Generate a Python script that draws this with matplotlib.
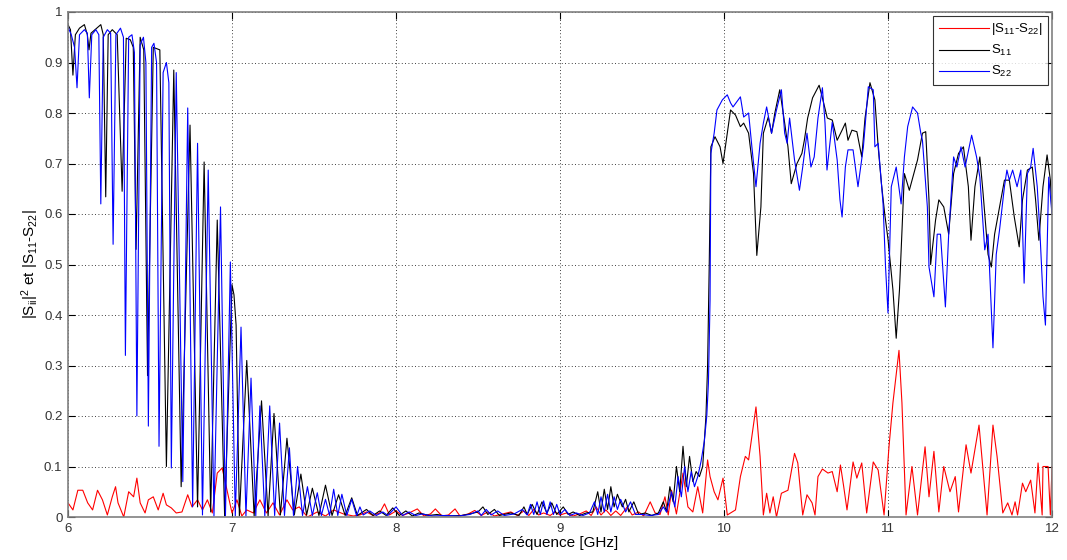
import matplotlib
matplotlib.use("Agg")
import matplotlib.pyplot as plt

plt.rcParams['font.family'] = ['Liberation Sans', 'DejaVu Sans']
plt.rcParams['mathtext.fontset'] = 'custom'
plt.rcParams['mathtext.rm'] = 'Liberation Sans'
plt.rcParams['mathtext.it'] = 'Liberation Sans:italic'
plt.rcParams['mathtext.default'] = 'regular'

# ---------------- data ----------------
x_ticks = [6, 7, 8, 9, 10, 11, 12]
x_tick_labels = ['6', '7', '8', '9', '10', '11', '12']
y_ticks = [0, 0.1, 0.2, 0.3, 0.4, 0.5, 0.6, 0.7, 0.8, 0.9, 1.0]
y_tick_labels = ['0', '0.1', '0.2', '0.3', '0.4', '0.5', '0.6', '0.7', '0.8', '0.9', '1']

labels = ['|S$_{11}$-S$_{22}$|', 'S$_{11}$', 'S$_{22}$']

# |S11 - S22|  (red)
diff_freq = [
    6.00, 6.03, 6.06, 6.09, 6.12, 6.15, 6.18, 6.21, 6.24, 6.27, 6.29, 6.305, 6.34, 6.37,
    6.40, 6.42, 6.44, 6.47, 6.49, 6.52, 6.55, 6.58, 6.60, 6.63, 6.66, 6.695, 6.73, 6.756,
    6.79, 6.82, 6.85, 6.88, 6.91, 6.94, 6.97, 7.00, 7.03, 7.06, 7.09, 7.13, 7.17, 7.21,
    7.25, 7.29, 7.335, 7.37, 7.41, 7.46, 7.52, 7.57, 7.62, 7.68, 7.74, 7.78, 7.82, 7.86,
    7.90, 7.93, 7.96, 8.00, 8.04, 8.08, 8.13, 8.17, 8.21, 8.24, 8.28, 8.32, 8.36, 8.39,
    8.44, 8.48, 8.52, 8.56, 8.60, 8.65, 8.70, 8.74, 8.78, 8.81, 8.84, 8.87, 8.90, 8.94,
    8.97, 9.00, 9.04, 9.08, 9.12, 9.16, 9.19, 9.22, 9.25, 9.28, 9.31, 9.34, 9.37, 9.41,
    9.44, 9.48, 9.51, 9.55, 9.58, 9.61, 9.64, 9.66, 9.68, 9.71, 9.75, 9.78, 9.81, 9.84,
    9.87, 9.90, 9.915, 9.94, 9.963, 9.994, 10.02, 10.07, 10.10, 10.13, 10.15, 10.195,
    10.22, 10.24, 10.26, 10.28, 10.30, 10.32, 10.35, 10.39, 10.43, 10.45, 10.48, 10.506,
    10.537, 10.555, 10.573, 10.60, 10.634, 10.66, 10.69, 10.71, 10.73, 10.75, 10.787,
    10.81, 10.84, 10.87, 10.91, 10.94, 10.976, 11.006, 11.03, 11.067, 11.085, 11.11,
    11.146, 11.18, 11.226, 11.25, 11.28, 11.31, 11.34, 11.378, 11.41, 11.43, 11.476,
    11.506, 11.555, 11.604, 11.64, 11.665, 11.70, 11.73, 11.756, 11.775, 11.79, 11.82,
    11.84, 11.87, 11.896, 11.915, 11.94, 11.945, 11.976, 11.99, 12.00]
diff_val = [
    0.028, 0.014, 0.053, 0.053, 0.028, 0.014, 0.053, 0.034, 0.004, 0.040, 0.060, 0.028, 0.000, 0.050,
    0.040, 0.077, 0.028, 0.008, 0.034, 0.040, 0.014, 0.047, 0.024, 0.018, 0.008, 0.010, 0.044, 0.020,
    0.034, 0.014, 0.034, 0.008, 0.087, 0.097, 0.053, 0.008, 0.034, 0.002, 0.014, 0.008, 0.034, 0.008,
    0.028, 0.004, 0.034, 0.014, 0.020, 0.000, 0.010, 0.002, 0.014, 0.006, 0.002, 0.004, 0.010, 0.003,
    0.008, 0.026, 0.004, 0.012, 0.003, 0.008, 0.016, 0.002, 0.006, 0.016, 0.002, 0.004, 0.016, 0.002,
    0.006, 0.013, 0.003, 0.010, 0.002, 0.006, 0.010, 0.003, 0.012, 0.003, 0.015, 0.004, 0.008, 0.003,
    0.010, 0.004, 0.008, 0.002, 0.006, 0.012, 0.003, 0.020, 0.004, 0.014, 0.003, 0.012, 0.003, 0.020,
    0.004, 0.010, 0.002, 0.030, 0.008, 0.005, 0.040, 0.004, 0.053, 0.006, 0.087, 0.020, 0.010, 0.060,
    0.008, 0.113, 0.080, 0.050, 0.034, 0.077, 0.004, 0.014, 0.080, 0.120, 0.113, 0.218,
    0.120, 0.004, 0.047, 0.008, 0.040, 0.000, 0.047, 0.053, 0.126, 0.107, 0.004, 0.044,
    0.028, 0.004, 0.080, 0.095, 0.087, 0.090, 0.050, 0.103, 0.060, 0.014, 0.109,
    0.077, 0.107, 0.008, 0.109, 0.093, 0.004, 0.139, 0.226, 0.330, 0.226, 0.004,
    0.100, 0.004, 0.139, 0.040, 0.130, 0.010, 0.100, 0.050, 0.080, 0.010, 0.143,
    0.087, 0.182, 0.004, 0.182, 0.120, 0.008, 0.028, 0.004, 0.030, 0.004, 0.067,
    0.050, 0.073, 0.008, 0.107, 0.004, 0.100, 0.100, 0.004, 0.100]

# S11 (black)
s11_freq = [
    6.000, 6.015, 6.030, 6.045, 6.070, 6.100, 6.118, 6.128, 6.140, 6.175, 6.200, 6.215, 6.230,
    6.245, 6.270, 6.300, 6.330, 6.355, 6.380, 6.398, 6.415, 6.440, 6.462, 6.485, 6.520, 6.560,
    6.600, 6.645, 6.690, 6.744, 6.790, 6.830, 6.870, 6.910, 6.955, 7.000, 7.012, 7.025, 7.045,
    7.090, 7.135, 7.180, 7.220, 7.256, 7.295, 7.335, 7.380, 7.420, 7.455, 7.490, 7.530, 7.570,
    7.610, 7.650, 7.690, 7.730, 7.765, 7.820, 7.860, 7.900, 7.940, 7.980, 8.020, 8.060, 8.100,
    8.140, 8.200, 8.250, 8.300, 8.400, 8.450, 8.500, 8.530, 8.560, 8.600, 8.630, 8.700, 8.750,
    8.780, 8.800, 8.830, 8.860, 8.890, 8.920, 8.950, 8.980, 9.020, 9.050, 9.080, 9.120, 9.160,
    9.200, 9.230, 9.250, 9.270, 9.290, 9.310, 9.330, 9.350, 9.380, 9.400, 9.420, 9.450, 9.480,
    9.520, 9.560, 9.600, 9.630, 9.650, 9.670, 9.690, 9.710, 9.730, 9.750, 9.770, 9.790, 9.810,
    9.830, 9.850, 9.870, 9.890, 9.900, 9.910, 9.920, 9.945, 9.976, 9.994, 10.02, 10.04, 10.07,
    10.10, 10.12, 10.15, 10.18, 10.20, 10.225, 10.24, 10.27, 10.29, 10.31, 10.34, 10.37,
    10.39, 10.41, 10.445, 10.475, 10.49, 10.51, 10.54, 10.58, 10.60, 10.63, 10.66, 10.69,
    10.72, 10.74, 10.756, 10.78, 10.81, 10.84, 10.86, 10.89, 10.92, 10.94, 10.96, 10.98,
    11.00, 11.03, 11.05, 11.07, 11.10, 11.13, 11.18, 11.21, 11.23, 11.25, 11.26, 11.29,
    11.31, 11.34, 11.37, 11.40, 11.43, 11.46, 11.49, 11.506, 11.53, 11.56, 11.58, 11.61,
    11.63, 11.65, 11.68, 11.71, 11.74, 11.77, 11.80, 11.82, 11.85, 11.88, 11.90, 11.92,
    11.945, 11.97, 11.99, 12.00]
s11_val = [
    0.975, 0.965, 0.875, 0.955, 0.968, 0.975, 0.955, 0.925, 0.958, 0.968, 0.975, 0.955, 0.634,
    0.955, 0.965, 0.955, 0.645, 0.948, 0.945, 0.930, 0.530, 0.950, 0.925, 0.280, 0.930, 0.925,
    0.100, 0.885, 0.060, 0.776, 0.020, 0.703, 0.010, 0.588, 0.002, 0.460, 0.440, 0.380, 0.002,
    0.310, 0.002, 0.230, 0.002, 0.205, 0.004, 0.156, 0.004, 0.085, 0.004, 0.057, 0.003, 0.063,
    0.003, 0.044, 0.003, 0.038, 0.003, 0.015, 0.003, 0.012, 0.003, 0.018, 0.003, 0.012, 0.002,
    0.008, 0.003, 0.005, 0.002, 0.003, 0.006, 0.010, 0.020, 0.005, 0.015, 0.003, 0.008, 0.003,
    0.020, 0.005, 0.025, 0.005, 0.030, 0.008, 0.028, 0.005, 0.020, 0.005, 0.010, 0.003, 0.008,
    0.010, 0.050, 0.010, 0.055, 0.015, 0.060, 0.020, 0.045, 0.020, 0.035, 0.010, 0.030, 0.005,
    0.008, 0.003, 0.008, 0.030, 0.010, 0.060, 0.030, 0.100, 0.050, 0.140, 0.060, 0.120, 0.070,
    0.090, 0.080, 0.100, 0.200, 0.300, 0.500, 0.733, 0.753, 0.733, 0.700, 0.760, 0.806, 0.796,
    0.773, 0.780, 0.760, 0.680, 0.518, 0.614, 0.760, 0.792, 0.760, 0.800, 0.846, 0.780,
    0.733, 0.660, 0.700, 0.720, 0.746, 0.790, 0.830, 0.855, 0.830, 0.790, 0.786, 0.746,
    0.766, 0.780, 0.746, 0.766, 0.763, 0.713, 0.790, 0.860, 0.826, 0.733, 0.660, 0.600,
    0.550, 0.450, 0.354, 0.450, 0.680, 0.647, 0.707, 0.760, 0.763, 0.628, 0.500, 0.588,
    0.628, 0.614, 0.560, 0.680, 0.720, 0.733, 0.654, 0.548, 0.654, 0.713, 0.640, 0.520,
    0.495, 0.560, 0.614, 0.667, 0.667, 0.594, 0.535, 0.628, 0.687, 0.693, 0.628, 0.548,
    0.654, 0.717, 0.667, 0.600]

# S22 (blue)
s22_freq = [
    6.000, 6.020, 6.040, 6.055, 6.070, 6.100, 6.118, 6.130, 6.145, 6.170, 6.188, 6.200, 6.215,
    6.240, 6.260, 6.275, 6.292, 6.320, 6.338, 6.350, 6.370, 6.390, 6.405, 6.420, 6.440, 6.460,
    6.475, 6.490, 6.510, 6.524, 6.540, 6.555, 6.580, 6.600, 6.615, 6.630, 6.660, 6.700, 6.730,
    6.760, 6.790, 6.820, 6.855, 6.890, 6.930, 6.960, 6.990, 7.020, 7.055, 7.085, 7.116, 7.145,
    7.170, 7.200, 7.230, 7.260, 7.290, 7.320, 7.350, 7.375, 7.400, 7.430, 7.460, 7.490, 7.520,
    7.545, 7.570, 7.595, 7.620, 7.645, 7.670, 7.700, 7.730, 7.760, 7.780, 7.800, 7.840, 7.880,
    7.920, 7.950, 8.000, 8.040, 8.080, 8.120, 8.160, 8.220, 8.300, 8.380, 8.450, 8.500, 8.520,
    8.550, 8.580, 8.620, 8.660, 8.720, 8.770, 8.800, 8.820, 8.840, 8.860, 8.880, 8.900, 8.920,
    8.940, 8.960, 8.980, 9.000, 9.030, 9.060, 9.100, 9.140, 9.180, 9.210, 9.230, 9.250, 9.270,
    9.290, 9.310, 9.330, 9.350, 9.370, 9.400, 9.430, 9.460, 9.500, 9.550, 9.600, 9.630, 9.650,
    9.680, 9.700, 9.720, 9.740, 9.760, 9.780, 9.800, 9.820, 9.840, 9.860, 9.880, 9.895, 9.905,
    9.915, 9.920, 9.940, 9.957, 9.990, 10.02, 10.04, 10.055, 10.10, 10.12, 10.15, 10.17,
    10.195, 10.22, 10.24, 10.26, 10.29, 10.32, 10.35, 10.37, 10.385, 10.40, 10.43, 10.46,
    10.48, 10.506, 10.53, 10.55, 10.573, 10.60, 10.616, 10.628, 10.66, 10.69, 10.707, 10.72,
    10.74, 10.756, 10.787, 10.817, 10.85, 10.88, 10.91, 10.92, 10.94, 10.97, 10.985, 11.00,
    11.02, 11.05, 11.08, 11.10, 11.12, 11.15, 11.18, 11.20, 11.21, 11.24, 11.25, 11.28,
    11.30, 11.32, 11.35, 11.37, 11.40, 11.42, 11.445, 11.47, 11.51, 11.54, 11.56, 11.59,
    11.61, 11.64, 11.66, 11.68, 11.71, 11.725, 11.74, 11.76, 11.787, 11.81, 11.83, 11.85,
    11.87, 11.885, 11.91, 11.927, 11.945, 11.96, 11.98, 12.00]
s22_val = [
    0.970, 0.955, 0.930, 0.850, 0.955, 0.965, 0.958, 0.830, 0.955, 0.965, 0.955, 0.620, 0.950,
    0.965, 0.958, 0.540, 0.955, 0.968, 0.950, 0.320, 0.950, 0.955, 0.920, 0.200, 0.935, 0.950,
    0.900, 0.180, 0.930, 0.938, 0.900, 0.140, 0.880, 0.900, 0.860, 0.097, 0.880, 0.070, 0.810,
    0.020, 0.740, 0.004, 0.687, 0.002, 0.614, 0.002, 0.505, 0.002, 0.376, 0.002, 0.275, 0.002,
    0.220, 0.002, 0.220, 0.003, 0.186, 0.003, 0.137, 0.003, 0.100, 0.003, 0.060, 0.003, 0.048,
    0.003, 0.035, 0.003, 0.055, 0.003, 0.045, 0.003, 0.035, 0.002, 0.020, 0.004, 0.012, 0.003,
    0.010, 0.003, 0.020, 0.003, 0.010, 0.003, 0.006, 0.002, 0.003, 0.002, 0.005, 0.012, 0.003,
    0.015, 0.004, 0.012, 0.003, 0.006, 0.015, 0.004, 0.025, 0.005, 0.030, 0.005, 0.032, 0.005,
    0.030, 0.005, 0.025, 0.005, 0.015, 0.003, 0.008, 0.003, 0.008, 0.030, 0.005, 0.040, 0.010,
    0.045, 0.010, 0.040, 0.015, 0.035, 0.010, 0.030, 0.005, 0.005, 0.003, 0.005, 0.020, 0.010,
    0.050, 0.020, 0.080, 0.040, 0.100, 0.050, 0.090, 0.060, 0.080, 0.110, 0.150, 0.200, 0.265,
    0.430, 0.720, 0.760, 0.806, 0.826, 0.836, 0.820, 0.812, 0.832, 0.792, 0.800, 0.733,
    0.654, 0.740, 0.780, 0.812, 0.760, 0.806, 0.846, 0.760, 0.740, 0.790, 0.707, 0.647,
    0.693, 0.760, 0.693, 0.713, 0.790, 0.850, 0.780, 0.687, 0.782, 0.707, 0.628, 0.594,
    0.693, 0.727, 0.727, 0.654, 0.733, 0.852, 0.846, 0.733, 0.740, 0.620, 0.495, 0.404,
    0.654, 0.693, 0.620, 0.713, 0.773, 0.812, 0.800, 0.760, 0.746, 0.614, 0.495, 0.436,
    0.560, 0.560, 0.416, 0.560, 0.713, 0.693, 0.733, 0.693, 0.756, 0.713, 0.673, 0.529,
    0.560, 0.335, 0.520, 0.568, 0.654, 0.687, 0.667, 0.687, 0.654, 0.687, 0.463, 0.680,
    0.693, 0.730, 0.654, 0.560, 0.436, 0.380, 0.673, 0.600]

# ---------------- figure ----------------
fig = plt.figure(figsize=(10.67, 5.60), dpi=100)
ax = fig.add_axes([68 / 1067, 43 / 560, 984 / 1067, 505 / 560])

ax.plot(diff_freq, diff_val, color='#ff0000', lw=0.8, label=labels[0])
ax.plot(s11_freq, s11_val, color='#000000', lw=0.8, label=labels[1])
ax.plot(s22_freq, s22_val, color='#0000ff', lw=0.8, label=labels[2])

ax.set_xlim(6, 12)
ax.set_ylim(0, 1)
ax.set_xticks(x_ticks)
ax.set_xticklabels(x_tick_labels)
ax.set_yticks(y_ticks)
ax.set_yticklabels(y_tick_labels)

ax.grid(True, linestyle=(0, (1, 3)), color='#000000', linewidth=0.6)
ax.tick_params(direction='in', top=True, right=True, length=5, width=0.8,
               labelsize=9.5, colors='#000000', pad=4)
for lab in ax.get_xticklabels() + ax.get_yticklabels():
    lab.set_color('#333333')
for sp in ax.spines.values():
    sp.set_color('#808080')
    sp.set_linewidth(1.2)

ax.set_xlabel('Fréquence [GHz]', fontsize=11, labelpad=1)
ax.set_ylabel('$|S_{ii}|^{2}$ et $|S_{11}$-$S_{22}|$', fontsize=11, labelpad=2)

leg = ax.legend(loc='upper right', fontsize=9.5, frameon=True, fancybox=False,
                handlelength=3.8, handletextpad=0.2, borderaxespad=0.3,
                labelspacing=0.45, borderpad=0.4)
leg.get_frame().set_edgecolor('#000000')
leg.get_frame().set_linewidth(0.8)

fig.savefig('out.png', dpi=100)
